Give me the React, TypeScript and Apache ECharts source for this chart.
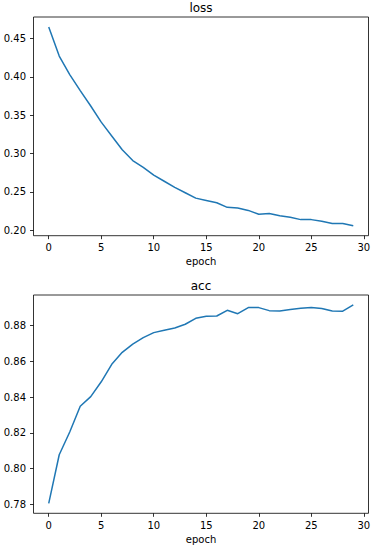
import React, { useEffect, useRef } from "react";
import * as echarts from "echarts";

// ---- data ----
const epochs = [0, 1, 2, 3, 4, 5, 6, 7, 8, 9, 10, 11, 12, 13, 14, 15, 16, 17, 18, 19, 20, 21, 22, 23, 24, 25, 26, 27, 28, 29];
const lossValues = [
  0.465, 0.427, 0.403, 0.382, 0.362, 0.341, 0.323, 0.305, 0.291, 0.282,
  0.272, 0.264, 0.256, 0.249, 0.242, 0.239, 0.236, 0.230, 0.229, 0.226,
  0.221, 0.222, 0.219, 0.217, 0.214, 0.214, 0.212, 0.209, 0.209, 0.206,
];
const accValues = [
  0.7806, 0.8078, 0.8205, 0.8349, 0.8403, 0.8486, 0.8584, 0.8651, 0.8697, 0.8733,
  0.8761, 0.8774, 0.8787, 0.8808, 0.8841, 0.8853, 0.8854, 0.8886, 0.8867, 0.8901,
  0.8901, 0.8884, 0.8882, 0.889, 0.8897, 0.8901, 0.8896, 0.8882, 0.8881, 0.8916,
];
const xTicks = [0, 5, 10, 15, 20, 25, 30];
const lossTicks = [0.2, 0.25, 0.3, 0.35, 0.4, 0.45];
const accTicks = [0.78, 0.8, 0.82, 0.84, 0.86, 0.88];
const titles = ["loss", "acc"];
const xLabel = "epoch";

// ---- layout / style ----
const W = 373;
const H = 550;
const FONT = '"DejaVu Sans", Verdana, sans-serif';
const LINE_COLOR = "#1f77b4";
const frames = [
  { left: 33.5, right: 368.5, top: 17, bottom: 235.7 },
  { left: 33.5, right: 368.5, top: 295, bottom: 513.3 },
];

function buildPanel(values: number[], yTicks: number[], frame: any, idx: number, title: string) {
  const xMin = Math.min(...epochs);
  const xMax = Math.max(...epochs);
  const xPad = 0.05 * (xMax - xMin);
  const xLo = xMin - xPad;
  const xHi = xMax + xPad;
  const yMin = Math.min(...values);
  const yMax = Math.max(...values);
  const yPad = 0.05 * (yMax - yMin);
  const yLo = yMin - yPad;
  const yHi = yMax + yPad;

  const fw = frame.right - frame.left;
  const fh = frame.bottom - frame.top;
  const sx = fw / (xHi - xLo);
  const sy = fh / (yHi - yLo);

  const tx0 = xTicks[0];
  const tx1 = xTicks[xTicks.length - 1];
  const ty0 = yTicks[0];
  const ty1 = yTicks[yTicks.length - 1];
  const px0 = frame.left + (tx0 - xLo) * sx;
  const px1 = frame.left + (tx1 - xLo) * sx;
  const pyTop = frame.top + (yHi - ty1) * sy;
  const pyBot = frame.top + (yHi - ty0) * sy;

  const xInterval = Number((xTicks[1] - xTicks[0]).toFixed(6));
  const yInterval = Number((yTicks[1] - yTicks[0]).toFixed(6));

  const tickStyle = { show: true, inside: false, length: 3.5, lineStyle: { color: "#000", width: 0.8 } };
  const labelStyle = { color: "#000", fontSize: 10, fontFamily: FONT };

  const grids = [
    {
      left: frame.left,
      top: frame.top,
      width: fw,
      height: fh,
      show: true,
      borderColor: "#000",
      borderWidth: 0.8,
      backgroundColor: "transparent",
      containLabel: false,
      outerBoundsMode: "none",
    },
    {
      left: px0,
      top: pyTop,
      width: px1 - px0,
      height: pyBot - pyTop,
      show: false,
      containLabel: false,
      outerBoundsMode: "none",
    },
  ];

  const xAxes = [
    {
      gridIndex: 2 * idx,
      type: "value",
      min: xLo,
      max: xHi,
      axisLine: { show: false },
      axisTick: { show: false },
      axisLabel: { show: false },
      splitLine: { show: false },
      name: xLabel,
      nameLocation: "middle",
      nameGap: 21,
      nameTextStyle: { color: "#000", fontSize: 10, fontFamily: FONT },
    },
    {
      gridIndex: 2 * idx + 1,
      type: "value",
      position: "bottom",
      min: tx0,
      max: tx1,
      interval: xInterval,
      offset: frame.bottom - pyBot,
      axisLine: { show: false, onZero: false },
      axisTick: tickStyle,
      axisLabel: { ...labelStyle, margin: 7, formatter: (v: number) => String(v) },
      splitLine: { show: false },
    },
  ];

  const yAxes = [
    {
      gridIndex: 2 * idx,
      type: "value",
      min: yLo,
      max: yHi,
      show: false,
      splitLine: { show: false },
    },
    {
      gridIndex: 2 * idx + 1,
      type: "value",
      position: "left",
      min: ty0,
      max: ty1,
      interval: yInterval,
      offset: px0 - frame.left,
      axisLine: { show: false, onZero: false },
      axisTick: tickStyle,
      axisLabel: { ...labelStyle, margin: 7.5, formatter: (v: number) => v.toFixed(2) },
      splitLine: { show: false },
    },
  ];

  const series = {
    type: "line",
    xAxisIndex: 2 * idx + 1,
    yAxisIndex: 2 * idx + 1,
    data: epochs.map((e, i) => [e, values[i]]),
    showSymbol: false,
    symbol: "none",
    clip: false,
    silent: true,
    lineStyle: { color: LINE_COLOR, width: 1.5 },
  };

  const titleText = {
    type: "text",
    x: (frame.left + frame.right) / 2,
    y: frame.top - 9.2,
    silent: true,
    style: {
      text: title,
      font: `12px ${FONT}`,
      fill: "#000",
      textAlign: "center",
      textVerticalAlign: "middle",
      align: "center",
      verticalAlign: "middle",
    },
  };

  return { grids, xAxes, yAxes, series, titleText };
}

export default function App() {
  const ref = useRef<HTMLDivElement>(null);

  useEffect(() => {
    if (!ref.current) return;
    const chart = echarts.init(ref.current, undefined, { renderer: "svg", width: W, height: H });
    const p1 = buildPanel(lossValues, lossTicks, frames[0], 0, titles[0]);
    const p2 = buildPanel(accValues, accTicks, frames[1], 1, titles[1]);
    chart.setOption({
      animation: false,
      backgroundColor: "#ffffff",
      textStyle: { fontFamily: FONT },
      grid: [...p1.grids, ...p2.grids],
      xAxis: [...p1.xAxes, ...p2.xAxes],
      yAxis: [...p1.yAxes, ...p2.yAxes],
      series: [p1.series, p2.series],
      graphic: [p1.titleText, p2.titleText],
    } as any);
    return () => chart.dispose();
  }, []);

  return (
    <div
      ref={ref}
      style={{ position: "fixed", left: 0, top: 0, width: W, height: H, background: "#fff" }}
    />
  );
}
